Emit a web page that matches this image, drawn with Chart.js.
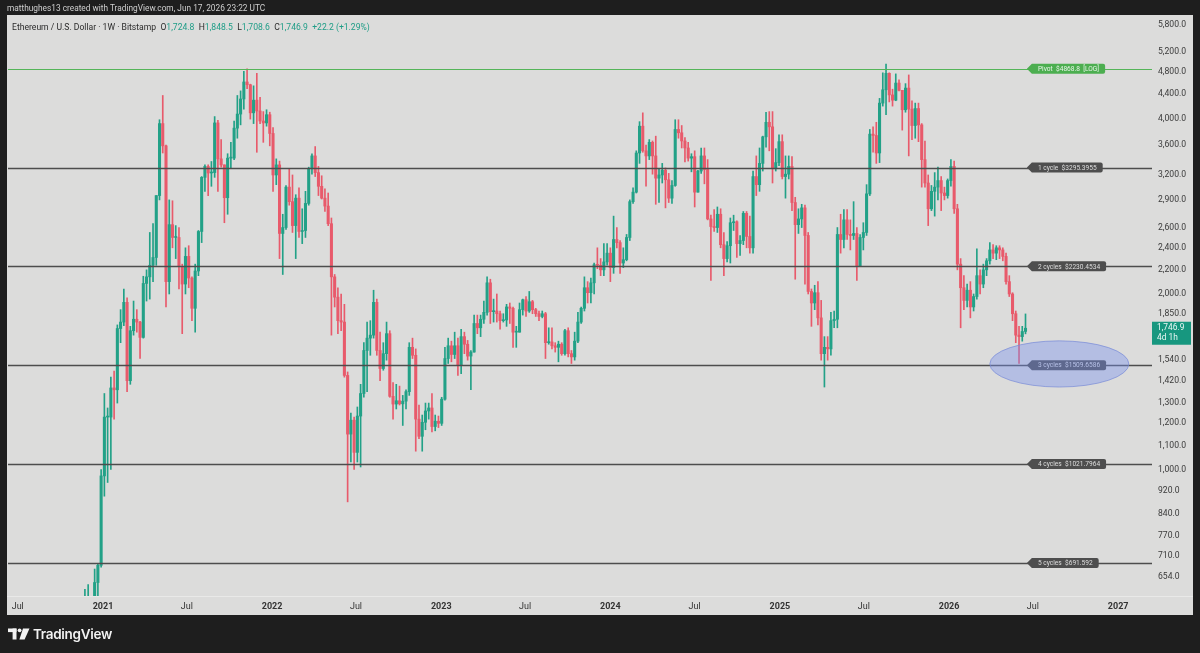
<!DOCTYPE html>
<html>
<head>
<meta charset="utf-8">
<script src="https://cdn.jsdelivr.net/npm/chart.js@4.4.1/dist/chart.umd.min.js"></script>
<style>
  html, body { margin: 0; padding: 0; background: #1e1e1e; width: 1200px; height: 653px; overflow: hidden; }
  #wrap { position: relative; width: 1200px; height: 653px; }
  #c { position: absolute; left: 0; top: 0; }
  .hdr { position: absolute; left: 7px; top: 3px; font: 8.3px Roboto, sans-serif; color: #cfcfcf; white-space: nowrap; }
  .leg { position: absolute; left: 12px; top: 22px; font: 8.6px Roboto, sans-serif; color: #2b2b2b; white-space: nowrap; }
  .leg .v { color: #1f9d87; }
  .logo { position: absolute; left: 8px; top: 626px; display: flex; align-items: center; gap: 3px; }
  .logo span { font: 600 13.5px Inter, Roboto, sans-serif; color: #f2f2f2; letter-spacing: -0.3px; }
</style>
</head>
<body>
<div id="wrap">
  <canvas id="c" width="1200" height="653"></canvas>
  <div class="hdr">matthughes13 created with TradingView.com, Jun 17, 2026 23:22 UTC</div>
  <div class="leg">Ethereum / U.S. Dollar · 1W · Bitstamp &nbsp;O<span class="v">1,724.8</span> &nbsp;H<span class="v">1,848.5</span> &nbsp;L<span class="v">1,708.6</span> &nbsp;C<span class="v">1,746.9</span> &nbsp;<span class="v">+22.2 (+1.29%)</span></div>
  <div class="logo">
    <svg width="22" height="12" viewBox="0 0 22 12"><rect x="0" y="0.5" width="8.5" height="3.6" fill="#f2f2f2"/><rect x="4.6" y="0.5" width="3.9" height="11" fill="#f2f2f2"/><circle cx="11.6" cy="2.3" r="1.9" fill="#f2f2f2"/><polygon points="15,0.5 21.5,0.5 16.6,11.5 11.4,11.5" fill="#f2f2f2"/></svg>
    <span>TradingView</span>
  </div>
</div>
<script>
// ---------------- DATA ----------------
// Weekly candles, first week starts Monday Nov 16, 2020 (UTC)
const firstWeek = [2020, 10, 16];
const opens = [460,510,575,587,590,640,685,975,1230,1230,1380,1370,1745,1790,1935,1420,1730,1810,1790,1685,
2085,2140,2240,2310,2950,3920,3590,2100,2630,2500,2500,2230,2080,2320,2130,1890,2190,2560,3170,3310,
3225,3230,3930,3410,3330,2925,3420,3420,3850,4070,4320,4620,4570,4090,4300,4120,3960,3930,4060,3770,
3200,3330,2540,2600,3050,2880,2620,2920,2560,2570,2860,3280,3450,3230,3060,2920,2830,2640,2140,1975,
1800,1790,1450,1150,1215,1070,1235,1350,1600,1680,1700,1935,1600,1490,1580,1710,1335,1295,1312,1296,
1310,1360,1620,1570,1220,1140,1205,1260,1275,1185,1210,1200,1320,1550,1630,1575,1630,1510,1690,1640,
1565,1590,1780,1750,1810,1860,2090,1865,1870,1850,1800,1805,1900,1890,1720,1720,1880,1955,1870,1940,
1880,1850,1830,1850,1650,1655,1630,1620,1640,1580,1730,1580,1560,1660,1790,1890,2050,2010,2090,2245,
2240,2200,2270,2350,2220,2480,2450,2260,2290,2500,2880,2990,3490,3880,3520,3450,3640,3450,3160,3200,
3260,3140,2920,3070,3830,3780,3660,3560,3420,3440,2990,3250,3450,3270,2690,2610,2600,2740,2430,2300,
2420,2650,2660,2440,2470,2750,2510,2400,3180,3080,3350,3720,3940,3870,3280,3360,3650,3180,3210,3310,
2870,2630,2690,2810,2520,2020,1930,2010,1820,1580,1620,1610,1800,1810,2530,2480,2680,2530,2520,2540,
2230,2500,2550,2970,3760,3740,3490,4250,4480,4780,4390,4300,4600,4470,4140,4510,4150,3890,4160,3900,
3400,3100,2800,3000,3050,3130,2980,2950,3130,3310,2800,2250,2050,1950,2030,1900,1980,2150,2080,2200,
2280,2380,2350,2400,2380,2320,2100,2000,1850,1700,1690,1724.8];
const highs = [520,623,635,602,675,690,1000,1350,1275,1440,1475,1770,1880,2040,1970,1760,1945,1880,1795,2145,
2200,2550,2640,2950,3980,4380,3600,2900,2890,2620,2600,2250,2400,2420,2140,2250,2570,3180,3330,3330,
3375,4030,3970,3680,3330,3480,3640,3960,4380,4460,4820,4868,4580,4550,4780,4350,4110,4140,4100,3860,
3410,3380,2740,3070,3280,3200,2960,3040,2800,3000,3300,3480,3580,3310,3190,3030,2980,2700,2160,2050,
2000,1920,1470,1250,1230,1280,1400,1650,1790,1800,2030,1960,1720,1650,1790,1730,1410,1400,1390,1340,
1370,1650,1680,1610,1290,1240,1300,1300,1350,1240,1235,1330,1620,1680,1660,1720,1680,1740,1720,1665,
1600,1840,1840,1840,1945,2140,2120,1960,2000,1870,1850,1920,1930,1900,1760,1930,1960,1980,2020,1950,
1890,1870,1870,1860,1750,1750,1650,1660,1650,1740,1750,1600,1720,1860,1900,2140,2100,2130,2260,2400,
2300,2440,2440,2400,2720,2600,2470,2400,2530,2900,3040,3520,3950,4090,3600,3680,3660,3730,3280,3350,
3290,3220,3130,3980,3980,3890,3710,3640,3480,3520,3260,3560,3560,3400,2730,2790,2820,2800,2550,2460,
2700,2730,2670,2520,2770,2770,2720,3250,3450,3560,3730,4100,4110,4110,3550,3750,3750,3450,3450,3440,
2930,2800,2850,2840,2550,2040,2070,2100,1950,1690,1690,1860,1870,2600,2740,2790,2790,2680,2880,2600,
2530,2650,3080,3830,3870,3940,4330,4790,4956,4790,4490,4770,4660,4470,4590,4750,4290,4250,4250,3920,
3660,3200,3070,3230,3300,3180,3050,3150,3400,3380,2850,2300,2150,2080,2100,2000,2390,2200,2250,2300,
2450,2430,2420,2420,2400,2350,2150,2010,1870,1760,1760,1848.5];
const lows = [445,480,545,530,585,565,680,900,950,1000,1220,1300,1650,1765,1360,1400,1700,1720,1550,1680,
1945,1960,2100,2240,2900,3490,1900,2000,2400,2300,2040,1710,2000,2050,1800,1720,2150,2450,3000,2950,
3060,3170,3000,3300,2650,2740,3280,3400,3700,3900,4150,4500,3990,3920,3500,3920,3640,3880,3590,3000,
3080,2300,2160,2580,2840,2550,2300,2500,2440,2500,2840,3210,3180,2950,2910,2770,2620,1700,1900,1710,
1730,1440,880,1030,1000,1030,1010,1330,1360,1570,1680,1570,1420,1480,1540,1330,1220,1270,1290,1190,
1270,1340,1550,1075,1130,1075,1170,1220,1160,1165,1180,1190,1315,1520,1530,1550,1450,1460,1580,1540,
1370,1590,1710,1690,1780,1840,1780,1790,1790,1740,1790,1760,1780,1620,1620,1720,1840,1830,1860,1850,
1830,1800,1820,1550,1640,1610,1590,1530,1570,1570,1560,1520,1540,1650,1780,1870,1930,1930,2000,2210,
2150,2150,2240,2100,2170,2400,2170,2220,2280,2470,2860,2980,3350,3500,3060,3400,3210,2850,2870,3100,
2810,2870,2860,3060,3700,3560,3370,3380,3240,2820,2990,3220,3090,2680,2110,2560,2550,2400,2150,2270,
2260,2570,2310,2330,2430,2400,2350,2350,2950,3000,3250,3570,3520,3100,3250,3320,3150,2920,3150,2780,
2120,2540,2600,2080,2000,1760,1880,1770,1540,1385,1540,1570,1750,1750,2350,2400,2480,2380,2480,2110,
2230,2380,2520,2950,3500,3350,3360,4200,4060,4270,4200,4290,4460,3820,4100,3450,3680,3700,3650,3050,
3050,2620,2780,2720,2900,2780,2900,2920,3060,2750,2200,1750,1880,1900,1820,1870,1960,2000,2050,2150,
2250,2300,2290,2300,2280,2080,1980,1800,1650,1520,1660,1708.6];
const closes = [510,575,587,590,640,685,975,1230,1230,1380,1370,1745,1790,1935,1420,1730,1810,1790,1685,2085,
2140,2240,2310,2950,3920,3590,2100,2630,2500,2500,2230,2080,2320,2130,1890,2190,2560,3170,3310,3225,
3230,3930,3410,3330,2925,3420,3420,3850,4070,4320,4620,4570,4090,4300,4120,3960,3930,4060,3770,3200,
3330,2540,2600,3050,2880,2620,2920,2560,2570,2860,3280,3450,3230,3060,2920,2830,2640,2140,1975,1800,
1790,1450,1150,1215,1070,1235,1350,1600,1680,1700,1935,1600,1490,1580,1710,1335,1295,1312,1296,1310,
1360,1620,1570,1220,1140,1205,1260,1275,1185,1210,1200,1320,1550,1630,1575,1630,1510,1690,1640,1565,
1590,1780,1750,1810,1860,2090,1865,1870,1850,1800,1805,1900,1890,1720,1720,1880,1955,1870,1940,1880,
1850,1830,1850,1650,1655,1630,1620,1640,1580,1730,1580,1560,1660,1790,1890,2050,2010,2090,2245,2240,
2200,2270,2350,2220,2480,2450,2260,2290,2500,2880,2990,3490,3880,3520,3450,3640,3450,3160,3200,3260,
3140,2920,3070,3830,3780,3660,3560,3420,3440,2990,3250,3450,3270,2690,2610,2600,2740,2430,2300,2420,
2650,2660,2440,2470,2750,2510,2400,3180,3080,3350,3720,3940,3870,3280,3360,3650,3180,3210,3310,2870,
2630,2690,2810,2520,2020,1930,2010,1820,1580,1620,1610,1800,1810,2530,2480,2680,2530,2520,2540,2230,
2500,2550,2970,3760,3740,3490,4250,4480,4780,4390,4300,4600,4470,4140,4510,4150,3890,4160,3900,3400,
3100,2800,3000,3050,3130,2980,2950,3130,3310,2800,2250,2050,1950,2030,1900,1980,2150,2080,2200,2280,
2380,2350,2400,2380,2320,2100,2000,1850,1700,1690,1724.8,1746.9];

// Horizontal levels (drawn rays) and their tag texts
const levelPrices = [4868.8, 3295.3955, 2230.4534, 1509.6586, 1021.7964, 691.592];
const levelTexts = ['Pivot  $4868.8  [LOG]', '1 cycle  $3295.3955', '2 cycles  $2230.4534',
                    '3 cycles  $1509.6586', '4 cycles  $1021.7964', '5 cycles  $691.592'];

// Axis ticks
const yTicks = [5800,5200,4800,4400,4000,3600,3200,2900,2600,2400,2200,2000,1850,1540,1420,1300,1200,1100,1000,920,840,770,710,654];
const xTickDates = [[2020,6,1],[2021,0,1],[2021,6,1],[2022,0,1],[2022,6,1],[2023,0,1],[2023,6,1],
                    [2024,0,1],[2024,6,1],[2025,0,1],[2025,6,1],[2026,0,1],[2026,6,1],[2027,0,1]];
const xTickLabels = ['Jul','2021','Jul','2022','Jul','2023','Jul','2024','Jul','2025','Jul','2026','Jul','2027'];

const lastPrice = 1746.9;
const lastPriceText = ['1,746.9', '4d 1h'];

// ---------------- HELPERS ----------------
const day = (y, m, d) => (Date.UTC(y, m, d) - Date.UTC(2020, 0, 1)) / 864e5;
const UP = '#22a187', DOWN = '#e85a6b';
const x0 = day(...firstWeek);
const xs = closes.map((c, i) => x0 + 7 * i);
const cols = closes.map((c, i) => c >= opens[i] ? UP : DOWN);
const fmt = v => v.toLocaleString('en-US', { minimumFractionDigits: 1, maximumFractionDigits: 1 });

// ellipse annotation (date/price anchored)
const ellipseBox = { x1: day(2026, 2, 30), x2: day(2027, 0, 24), yTop: 1662, yBottom: 1385 };
const tagDate = day(2026, 5, 18);

const FONT = 'Roboto, sans-serif';

const overlay = {
  id: 'overlay',
  beforeDraw(chart) {
    const c = chart.ctx;
    c.save();
    c.fillStyle = '#1e1e1e';
    c.fillRect(0, 0, chart.width, chart.height);
    c.fillStyle = '#dcdcdb';
    c.fillRect(7, 15, 1186, 600);
    c.fillStyle = '#e9e9e8';
    c.fillRect(7, chart.chartArea.bottom, 1186, 1);
    c.restore();
  },
  afterDatasetsDraw(chart) {
    const c = chart.ctx, xs_ = chart.scales.x, ys_ = chart.scales.y, a = chart.chartArea;
    c.save();
    c.beginPath();
    c.rect(a.left, a.top, a.right - a.left, a.bottom - a.top);
    c.clip();
    // level lines
    levelPrices.forEach((p, i) => {
      const y = Math.round(ys_.getPixelForValue(p)) + 0.5;
      c.beginPath();
      c.moveTo(a.left, y);
      c.lineTo(a.right, y);
      c.strokeStyle = i === 0 ? '#55b559' : '#4d4d4d';
      c.lineWidth = i === 0 ? 1.2 : 1.6;
      c.stroke();
    });
    // tags
    const tx = xs_.getPixelForValue(tagDate);
    c.font = '6.6px ' + FONT;
    c.textBaseline = 'middle';
    levelPrices.forEach((p, i) => {
      const y = ys_.getPixelForValue(p);
      const w = c.measureText(levelTexts[i]).width + 12;
      const h = 10, r = 2;
      c.beginPath();
      c.moveTo(tx, y);
      c.lineTo(tx + 5, y - h / 2);
      c.lineTo(tx + 5 + w - r, y - h / 2);
      c.quadraticCurveTo(tx + 5 + w, y - h / 2, tx + 5 + w, y - h / 2 + r);
      c.lineTo(tx + 5 + w, y + h / 2 - r);
      c.quadraticCurveTo(tx + 5 + w, y + h / 2, tx + 5 + w - r, y + h / 2);
      c.lineTo(tx + 5, y + h / 2);
      c.closePath();
      c.fillStyle = i === 0 ? '#4cae50' : '#4e4e4e';
      c.fill();
      c.fillStyle = i === 0 ? '#e8f5e8' : '#dedede';
      c.fillText(levelTexts[i], tx + 11, y + 0.5);
    });
    // ellipse (drawn on top, translucent)
    const ex1 = xs_.getPixelForValue(ellipseBox.x1), ex2 = xs_.getPixelForValue(ellipseBox.x2);
    const ey1 = ys_.getPixelForValue(ellipseBox.yTop), ey2 = ys_.getPixelForValue(ellipseBox.yBottom);
    c.beginPath();
    c.ellipse((ex1 + ex2) / 2, (ey1 + ey2) / 2, (ex2 - ex1) / 2, (ey2 - ey1) / 2, 0, 0, Math.PI * 2);
    c.fillStyle = 'rgba(120,145,240,0.40)';
    c.fill();
    c.strokeStyle = 'rgba(120,138,215,0.7)';
    c.lineWidth = 1;
    c.stroke();
    c.restore();
  },
  afterDraw(chart) {
    const c = chart.ctx, ys_ = chart.scales.y, a = chart.chartArea;
    const y = ys_.getPixelForValue(lastPrice);
    c.save();
    c.fillStyle = '#17977f';
    c.fillRect(a.right, y - 6.5, 39, 23);
    c.fillStyle = '#eaf7f4';
    c.font = '8.4px ' + FONT;
    c.textBaseline = 'middle';
    c.fillText(lastPriceText[0], a.right + 5, y);
    c.fillText(lastPriceText[1], a.right + 5, y + 10);
    c.restore();
  }
};

new Chart(document.getElementById('c'), {
  type: 'bar',
  data: {
    datasets: [
      {
        label: 'body',
        data: xs.map((x, i) => ({ x, y: [Math.min(opens[i], closes[i]), Math.max(opens[i], closes[i])] })),
        backgroundColor: cols, barThickness: 2.4, minBarLength: 1, grouped: false, order: 1
      },
      {
        label: 'wick',
        data: xs.map((x, i) => ({ x, y: [lows[i], highs[i]] })),
        backgroundColor: cols, barThickness: 1, grouped: false, order: 2
      }
    ]
  },
  options: {
    responsive: false, animation: false, devicePixelRatio: 1,
    layout: { padding: { left: 8, top: 16, right: 8, bottom: 37 } },
    plugins: { legend: { display: false }, tooltip: { enabled: false } },
    scales: {
      x: {
        type: 'linear', min: day(2020, 5, 10), max: day(2027, 2, 15), offset: false,
        grid: { display: false, drawTicks: false }, border: { display: false },
        afterBuildTicks: s => { s.ticks = xTickDates.map(d => ({ value: day(...d) })); },
        afterFit: s => { s.height = 20; },
        ticks: {
          autoSkip: false, maxRotation: 0, padding: 5, color: '#333',
          font: ctx => ({ family: FONT, size: 9, weight: (ctx.index % 2 === 1) ? 'bold' : 'normal' }),
          callback: (v, i) => xTickLabels[i]
        }
      },
      y: {
        type: 'logarithmic', position: 'right', min: 606.8, max: 5995,
        grid: { display: false, drawTicks: false }, border: { display: false },
        afterBuildTicks: s => { s.ticks = yTicks.map(v => ({ value: v })); },
        afterFit: s => { s.width = 40; },
        ticks: { autoSkip: false, padding: 6, color: '#3a3a3a', font: { family: FONT, size: 8.6 }, callback: v => fmt(v) }
      }
    }
  },
  plugins: [overlay]
});
</script>
</body>
</html>
